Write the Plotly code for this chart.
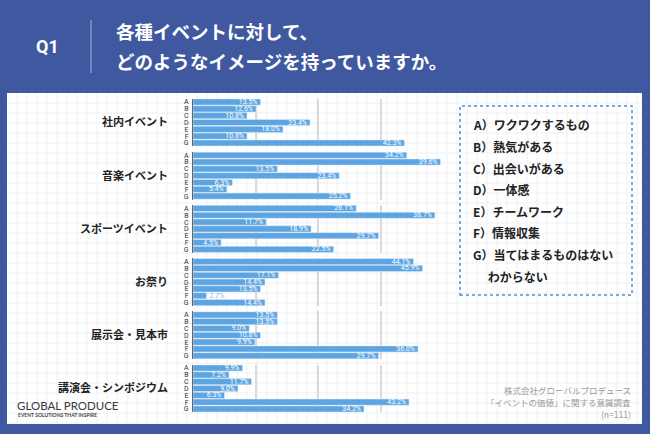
import plotly.graph_objects as go

# data
letters = ["A", "B", "C", "D", "E", "F", "G"]
events = ["社内イベント", "音楽イベント", "スポーツイベント", "お祭り", "展示会・見本市", "講演会・シンポジウム"]
shanai = [13.5, 12.6, 10.8, 23.4, 18.0, 10.8, 42.3]
ongaku = [34.2, 39.6, 13.5, 23.4, 6.3, 5.4, 25.2]
sports = [26.1, 38.7, 11.7, 18.9, 29.7, 4.5, 22.5]
omatsuri = [44.1, 45.9, 17.1, 14.4, 13.5, 2.7, 14.4]
tenjikai = [13.5, 13.5, 9.0, 10.8, 9.9, 36.0, 29.7]
kouenkai = [9.9, 7.2, 11.7, 9.0, 6.3, 43.2, 34.2]
series = [shanai, ongaku, sports, omatsuri, tenjikai, kouenkai]
x_max = [50, 40, 40, 50, 40, 50]
legend_items = ["A）ワクワクするもの", "B）熱気がある", "C）出会いがある", "D）一体感",
                "E）チームワーク", "F）情報収集", "G）当てはまるものはない", "　 わからない"]

W, H = 650, 434
FONT = "Noto Sans CJK JP"
BLUE = "#5DA5E2"


def px(x):
    return x / W


def py(y):
    return 1 - y / H


def label(text, x, y, size, color, xanchor="left", family=FONT):
    return dict(text=text, xref="paper", yref="paper", x=px(x), y=py(y - 0.1 * size),
                xanchor=xanchor, yanchor="middle", showarrow=False,
                font=dict(size=size, color=color, family=family))


fig = go.Figure()
layout = {}
annotations = []
shapes = []

# background panel
shapes.append(dict(type="rect", xref="paper", yref="paper", x0=px(7), x1=px(642),
                   y0=py(424), y1=py(93), fillcolor="white", line_width=0, layer="below"))
# graph-paper grid
for gx in range(17, 642, 10):
    shapes.append(dict(type="line", xref="paper", yref="paper", x0=px(gx), x1=px(gx),
                       y0=py(424), y1=py(93), line=dict(color="#EEF0F4", width=1), layer="below"))
for gy in range(103, 424, 10):
    shapes.append(dict(type="line", xref="paper", yref="paper", x0=px(7), x1=px(642),
                       y0=py(gy), y1=py(gy), line=dict(color="#EEF0F4", width=1), layer="below"))

for i, vals in enumerate(series):
    n = "" if i == 0 else str(i + 1)
    top = 98.6 + 53.2 * i
    bot = top + 47.8
    fig.add_trace(go.Bar(
        x=vals, y=letters, orientation="h", marker_color=BLUE,
        xaxis="x" + n, yaxis="y" + n,
        text=[f"{v:.1f}%" for v in vals],
        textposition=["inside" if v > 4 else "outside" for v in vals],
        insidetextanchor="end", textangle=0, constraintext="none",
        insidetextfont=dict(color="white", size=7, family="Roboto"),
        outsidetextfont=dict(color="#8CBDEA", size=7, family="Roboto"),
        cliponaxis=False, showlegend=False, hoverinfo="skip",
    ))
    layout["xaxis" + n] = dict(
        domain=[px(193), px(443)], anchor="y" + n, range=[0, x_max[i]],
        dtick=x_max[i] / 4, showgrid=True, gridcolor="#DADADA", gridwidth=1.5,
        showticklabels=False, zeroline=False, fixedrange=True,
    )
    layout["yaxis" + n] = dict(
        domain=[py(bot), py(top)], anchor="x" + n, autorange="reversed",
        tickmode="array", tickvals=letters, ticktext=letters,
        showline=True, linecolor="#666", linewidth=1, ticks="", fixedrange=True,
        tickfont=dict(size=7, color="#333", family="Roboto"), ticklabelstandoff=2,
    )
    annotations.append(label(f"<b>{events[i]}</b>", 170, (top + bot) / 2, 11, "#222", "right"))

# header
shapes.append(dict(type="line", xref="paper", yref="paper", x0=px(91), x1=px(91),
                   y0=py(73), y1=py(20), line=dict(color="rgba(255,255,255,0.55)", width=1)))
annotations.append(label("<b>Q1</b>", 47, 48, 18, "white", "center", "Roboto"))
annotations.append(label("<b>各種イベントに対して、</b>", 114, 33, 18.5, "white"))
annotations.append(label("<b>どのようなイメージを持っていますか。</b>", 114, 63, 18.5, "white"))

# legend box
shapes.append(dict(type="rect", xref="paper", yref="paper", x0=px(460), x1=px(632),
                   y0=py(295), y1=py(106), line=dict(color="#4A90E2", width=1.5, dash="dot"),
                   fillcolor="rgba(0,0,0,0)"))
for k, item in enumerate(legend_items):
    annotations.append(label(f"<b>{item}</b>", 471, 126 + 21.6 * k, 12, "#222"))

# footer
annotations.append(dict(text="GLOBAL PRODUCE", xref="paper", yref="paper", x=px(15), y=py(405),
                        xanchor="left", yanchor="middle", showarrow=False,
                        font=dict(size=11.5, color="#3a3a3a", family="Lato")))
annotations.append(dict(text="<b>EVENT SOLUTIONS THAT INSPIRE</b>", xref="paper", yref="paper",
                        x=px(16), y=py(415), xanchor="left", yanchor="middle", showarrow=False,
                        font=dict(size=5, color="#444", family="Lato")))
for txt, yy in [("株式会社グローバルプロデュース", 391), ("「イベントの価値」に関する意識調査", 403),
                ("(n=111)", 415)]:
    annotations.append(label(txt, 633, yy, 8.5, "#999", "right"))

fig.update_layout(
    width=W, height=H, margin=dict(l=0, r=0, t=0, b=0),
    paper_bgcolor="#3F58A0", plot_bgcolor="white",
    bargap=0.1, font=dict(family=FONT), hovermode=False,
    annotations=annotations, shapes=shapes, **layout,
)

# page body has a default 8px margin, drop it so the figure fills the window
fig.write_html("out.html", config={"displayModeBar": False},
               post_script="document.body.style.margin='0';")
